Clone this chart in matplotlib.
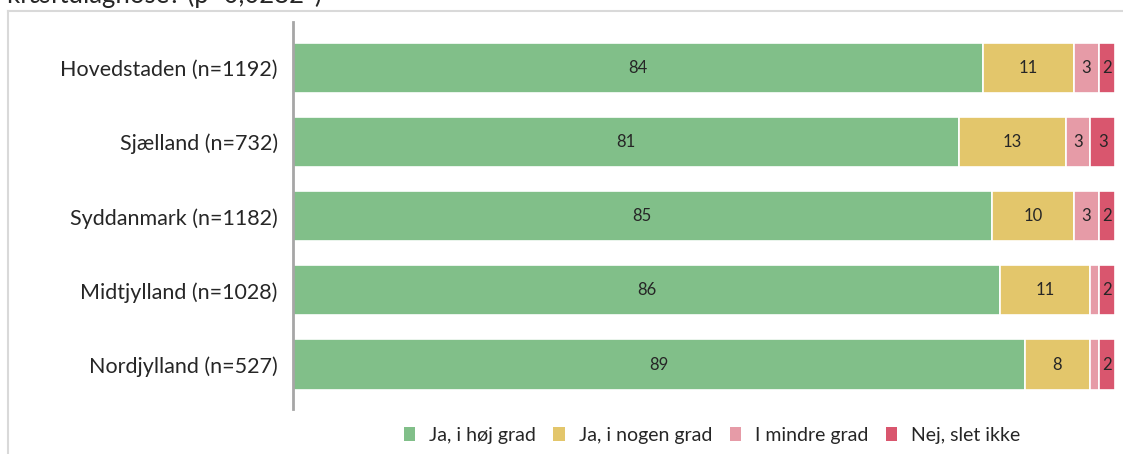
import matplotlib
matplotlib.use("Agg")
import matplotlib.pyplot as plt
from matplotlib.lines import Line2D
from matplotlib.patches import Patch

plt.rcParams['font.family'] = ['Lato', 'DejaVu Sans']

regions = ["Hovedstaden (n=1192)", "Sjælland (n=732)", "Syddanmark (n=1182)",
           "Midtjylland (n=1028)", "Nordjylland (n=527)"]
series_names = ["Ja, i høj grad", "Ja, i nogen grad", "I mindre grad", "Nej, slet ikke"]
hoej_grad = [84, 81, 85, 86, 89]
nogen_grad = [11, 13, 10, 11, 8]
mindre_grad = [3, 3, 3, 1, 1]
slet_ikke = [2, 3, 2, 2, 2]
title_text = "kræftdiagnose? (p=0,0282*)"

series = [hoej_grad, nogen_grad, mindre_grad, slet_ikke]
colors = ["#81bf89", "#e3c66b", "#e69ba7", "#d9566e"]
text_color = "#262626"

W, H = 1123, 454
fig = plt.figure(figsize=(W / 100, H / 100), dpi=100)

# plot area in pixel terms
left_px, right_px, top_px, bottom_px = 293, 1115, 22, 409
ax = fig.add_axes([left_px / W, 1 - bottom_px / H,
                   (right_px - left_px) / W, (bottom_px - top_px) / H])

ypos = list(range(len(regions)))
lefts = [0] * len(regions)
for vals, col in zip(series, colors):
    ax.barh(ypos, vals, left=lefts, height=0.675, color=col,
            edgecolor="white", linewidth=1.2)
    for y, v, l in zip(ypos, vals, lefts):
        if v >= 2:
            ax.text(l + v / 2, y, f"{v}", ha="center", va="center",
                    fontsize=12, color=text_color)
    lefts = [a + b for a, b in zip(lefts, vals)]

ax.set_xlim(0, 100)
ax.set_ylim(4.6, -0.62)
ax.set_yticks(ypos)
ax.set_yticklabels(regions, fontsize=15.5, color=text_color)
ax.tick_params(axis="y", length=0, pad=11)
ax.set_xticks([])
for side in ["top", "right", "bottom"]:
    ax.spines[side].set_visible(False)
ax.spines["left"].set_color("#a6a6a6")
ax.spines["left"].set_linewidth(2)

# outer frame of the chart area
frame_col = "#d9d9d9"
fig.add_artist(Line2D([8 / W, 1], [1 - 10.5 / H, 1 - 10.5 / H],
                      transform=fig.transFigure, color=frame_col, lw=1.5))
fig.add_artist(Line2D([8 / W, 8 / W], [0, 1 - 10.5 / H],
                      transform=fig.transFigure, color=frame_col, lw=1.5))

# title line running off the top edge
fig.text(7 / W, 1 - 3 / H, title_text, fontsize=18.5, color=text_color,
         ha="left", va="baseline")

handles = [Patch(facecolor=c, edgecolor="none") for c in colors]
fig.legend(handles, series_names, loc="center", bbox_to_anchor=(712 / W, 1 - 435 / H),
           ncol=4, frameon=False, fontsize=14, handlelength=0.6, handleheight=0.75,
           handletextpad=0.7, columnspacing=0.9, labelcolor=text_color)

fig.savefig("out.png", dpi=100, facecolor="white")
